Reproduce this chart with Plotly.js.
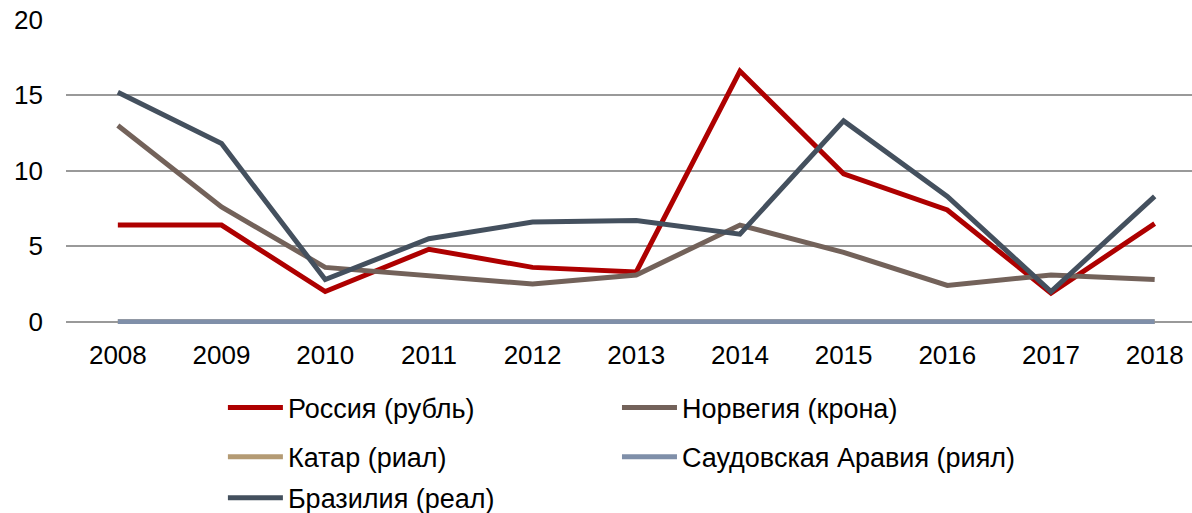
<!DOCTYPE html>
<html>
<head>
<meta charset="utf-8">
<script src="https://cdn.plot.ly/plotly-3.0.1.min.js"></script>
<style>
  html, body { margin: 0; padding: 0; background: #fff; }
  #chart { width: 1192px; height: 513px; }
</style>
</head>
<body>
<div id="chart"></div>
<script>
// years on the category axis
var years = ['2008', '2009', '2010', '2011', '2012', '2013', '2014', '2015', '2016', '2017', '2018'];

// series values
var russia = [6.4, 6.4, 2.0, 4.8, 3.6, 3.3, 16.6, 9.8, 7.4, 1.9, 6.5];
var norway = [13.0, 7.6, 3.6, 3.05, 2.5, 3.1, 6.4, 4.6, 2.4, 3.1, 2.8];
var qatar = [0, 0, 0, 0, 0, 0, 0, 0, 0, 0, 0];
var saudi = [0, 0, 0, 0, 0, 0, 0, 0, 0, 0, 0];
var brazil = [15.2, 11.8, 2.8, 5.5, 6.6, 6.7, 5.8, 13.3, 8.3, 2.0, 8.3];

var names = ['Россия (рубль)', 'Норвегия (крона)', 'Катар (риал)', 'Саудовская Аравия (риял)', 'Бразилия (реал)'];
var colors = ['#AE0000', '#73625A', '#B49B74', '#7F8FA9', '#44505E'];
var series = [russia, norway, qatar, saudi, brazil];

// one small legend per entry so the two-column grid can be placed freely
var legendIds = ['legend', 'legend2', 'legend3', 'legend4', 'legend5'];
var legendX = [0.187, 0.5176, 0.187, 0.5176, 0.187];
var legendY = [0.2047, 0.2047, 0.109, 0.109, 0.029];

var data = [];
for (var i = 0; i < series.length; i++) {
  data.push({
    x: years,
    y: series[i],
    type: 'scatter',
    mode: 'lines',
    name: names[i],
    legend: legendIds[i],
    line: {color: colors[i], width: 5}
  });
}

var font = {family: '"Liberation Sans", Arial, sans-serif', size: 26, color: '#000'};

var layout = {
  width: 1192,
  height: 513,
  margin: {l: 66, r: 0, t: 19, b: 189},
  paper_bgcolor: '#fff',
  plot_bgcolor: '#fff',
  font: font,
  showlegend: true,
  xaxis: {
    type: 'category',
    range: [-0.5, 10.36],
    showgrid: false,
    zeroline: false,
    showline: false,
    ticks: '',
    ticklabelstandoff: 13,
    tickfont: font
  },
  yaxis: {
    range: [-0.15, 20.05],
    tickvals: [0, 5, 10, 15, 20],
    showgrid: true,
    gridcolor: '#999999',
    gridwidth: 2,
    zeroline: false,
    showline: false,
    ticks: '',
    ticklabelstandoff: 22,
    tickfont: font
  }
};

for (var j = 0; j < legendIds.length; j++) {
  layout[legendIds[j]] = {
    orientation: 'h',
    xref: 'container', yref: 'container',
    x: legendX[j], y: legendY[j],
    xanchor: 'left', yanchor: 'middle',
    itemwidth: 55,
    font: {family: font.family, size: 27, color: '#000'},
    bgcolor: 'rgba(0,0,0,0)'
  };
}

Plotly.newPlot('chart', data, layout, {displayModeBar: false, staticPlot: true});
</script>
</body>
</html>
